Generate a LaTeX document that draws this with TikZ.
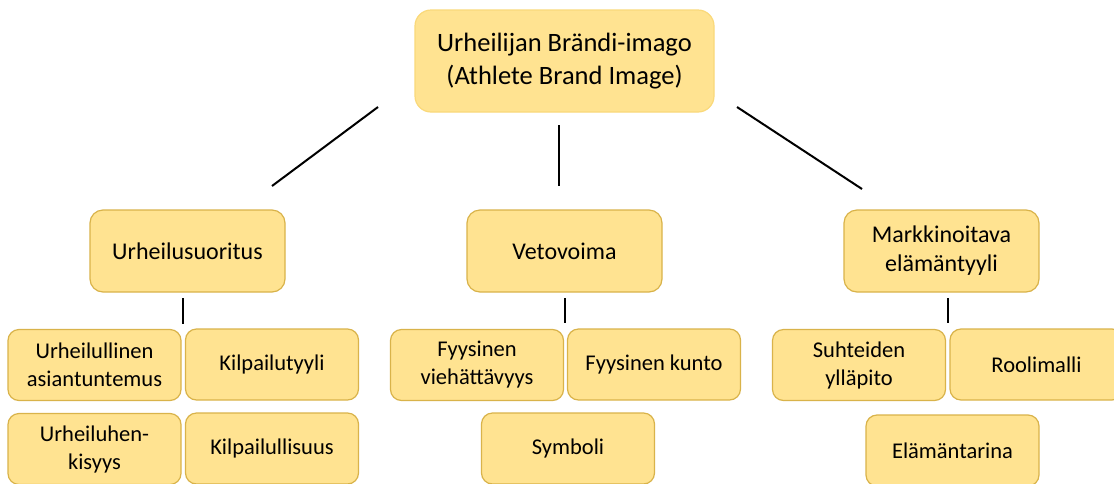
\documentclass[tikz,border=0pt]{standalone}
\usepackage{fontspec}
\setmainfont{Carlito}
\usetikzlibrary{positioning}
\definecolor{boxfill}{HTML}{FFE391}
\definecolor{boxline}{HTML}{D9B34A}
\definecolor{topline}{HTML}{FAD97A}
\tikzset{
	attr/.style={draw=boxline,fill=boxfill,line width=1.2pt,rounded corners=11pt,minimum width=173pt,minimum height=71pt,align=center,inner sep=2pt,font=\fontsize{22.5}{28}\selectfont},
	dim/.style={attr,minimum width=195pt,minimum height=82pt,rounded corners=13pt,font=\fontsize{24}{29}\selectfont},
	root/.style={attr,draw=topline,minimum width=299pt,minimum height=102pt,rounded corners=16pt,font=\fontsize{26.5}{33}\selectfont},
	link/.style={line width=2pt}
}

\begin{document}
\begin{tikzpicture}[x=1pt,y=-1pt]
\clip (0,0) rectangle (1114,483);
\fill [white] (0,0) rectangle (1114,483);
% top
\node [root] (brand) at (564.5,61) {Urheilijan Brändi-imago\\(Athlete Brand Image)};
% dimensions
\node [dim] (perf) at (187.5,251) {Urheilusuoritus};
\node [dim] (appeal) at (564.5,251) {Vetovoima};
\node [dim] (life) at (941.5,251) {Markkinoitava\\elämäntyyli};
% attributes
\node [attr] (expert) at (94.5,365) {Urheilullinen\\asiantuntemus};
\node [attr] (style) at (272,364.5) {Kilpailutyyli};
\node [attr] (sport) at (94.5,449) {Urheiluhen-\\kisyys};
\node [attr] (compet) at (272,448.5) {Kilpailullisuus};
\node [attr] (attract) at (477,365) {Fyysinen\\viehättävyys};
\node [attr] (fit) at (654,364.5) {Fyysinen kunto};
\node [attr] (symbol) at (568,448.5) {Symboli};
\node [attr] (relat) at (859,365) {Suhteiden\\ylläpito};
\node [attr] (model) at (1036.5,364.5) {Roolimalli};
\node [attr] (story) at (952.5,450.5) {Elämäntarina};
% connectors
\coordinate (l1) at (378,107); \coordinate (l2) at (272,186);
\coordinate (m1) at (559,125); \coordinate (m2) at (559,186);
\coordinate (r1) at (737,107); \coordinate (r2) at (862,189);
\coordinate (p1) at (183,298); \coordinate (p2) at (183,324);
\coordinate (a1) at (565,298); \coordinate (a2) at (565,323);
\coordinate (s1) at (948,298); \coordinate (s2) at (948,323);
\foreach \from/\to in {l1/l2,m1/m2,r1/r2,p1/p2,a1/a2,s1/s2}
	\draw [link] (\from) -- (\to);
\end{tikzpicture}
\end{document}
